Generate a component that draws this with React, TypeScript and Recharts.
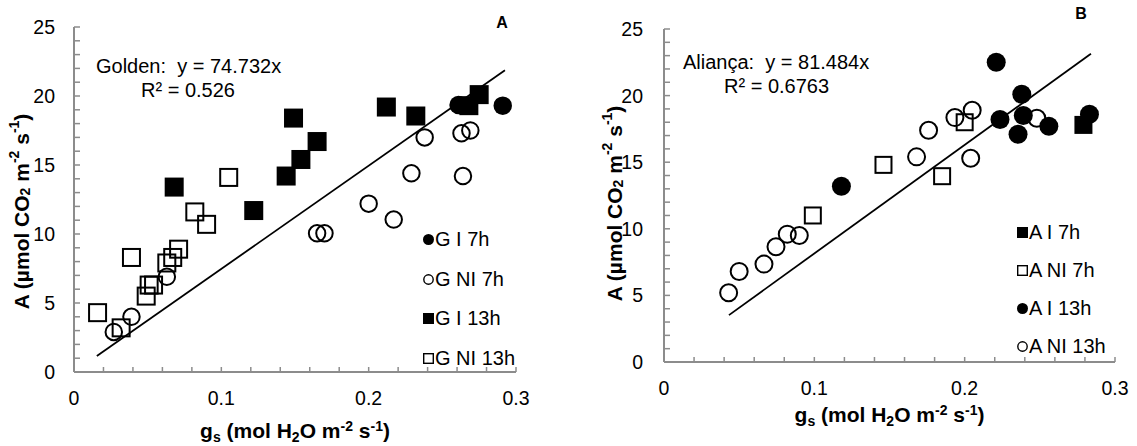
import React from 'react';
import { Label, Legend, ReferenceLine, Scatter, ScatterChart, XAxis, YAxis } from 'recharts';

type Pt = { gs: number; a: number };
type Series = { name: string; data: Pt[]; shape: 'circle' | 'square'; filled: boolean };

// axis ticks
const X_TICKS = [0, 0.02, 0.04, 0.06, 0.08, 0.1, 0.12, 0.14, 0.16, 0.18, 0.2, 0.22, 0.24, 0.26, 0.28, 0.3];
const X_LABELS = [0, 0.1, 0.2, 0.3];
const Y_TICKS = [0, 1, 2, 3, 4, 5, 6, 7, 8, 9, 10, 11, 12, 13, 14, 15, 16, 17, 18, 19, 20, 21, 22, 23, 24, 25];
const Y_LABELS = [0, 5, 10, 15, 20, 25];

// Golden (panel A)
const G_I_7H: Pt[] = [
  { gs: 0.261, a: 19.35 },
  { gs: 0.291, a: 19.3 },
];
const G_NI_7H: Pt[] = [
  { gs: 0.027, a: 2.9 },
  { gs: 0.039, a: 4.0 },
  { gs: 0.063, a: 6.9 },
  { gs: 0.165, a: 10.05 },
  { gs: 0.17, a: 10.05 },
  { gs: 0.2, a: 12.2 },
  { gs: 0.217, a: 11.05 },
  { gs: 0.229, a: 14.4 },
  { gs: 0.238, a: 17.0 },
  { gs: 0.263, a: 17.3 },
  { gs: 0.264, a: 14.2 },
  { gs: 0.269, a: 17.5 },
];
const G_I_13H: Pt[] = [
  { gs: 0.068, a: 13.4 },
  { gs: 0.122, a: 11.7 },
  { gs: 0.144, a: 14.2 },
  { gs: 0.149, a: 18.4 },
  { gs: 0.154, a: 15.4 },
  { gs: 0.165, a: 16.7 },
  { gs: 0.212, a: 19.2 },
  { gs: 0.232, a: 18.55 },
  { gs: 0.268, a: 19.3 },
  { gs: 0.275, a: 20.1 },
];
const G_NI_13H: Pt[] = [
  { gs: 0.016, a: 4.3 },
  { gs: 0.032, a: 3.2 },
  { gs: 0.039, a: 8.3 },
  { gs: 0.049, a: 5.5 },
  { gs: 0.051, a: 6.3 },
  { gs: 0.054, a: 6.3 },
  { gs: 0.063, a: 7.9 },
  { gs: 0.067, a: 8.3 },
  { gs: 0.071, a: 8.9 },
  { gs: 0.082, a: 11.6 },
  { gs: 0.09, a: 10.7 },
  { gs: 0.105, a: 14.1 },
];
const GOLDEN_SLOPE = 74.732;
const GOLDEN_FIT_RANGE = [0.0155, 0.2925];

// Aliança (panel B)
const A_I_7H: Pt[] = [{ gs: 0.279, a: 17.8 }];
const A_NI_7H: Pt[] = [
  { gs: 0.099, a: 11.0 },
  { gs: 0.146, a: 14.8 },
  { gs: 0.185, a: 13.95 },
  { gs: 0.2, a: 18.0 },
];
const A_I_13H: Pt[] = [
  { gs: 0.118, a: 13.2 },
  { gs: 0.221, a: 22.5 },
  { gs: 0.2235, a: 18.2 },
  { gs: 0.2355, a: 17.1 },
  { gs: 0.238, a: 20.1 },
  { gs: 0.239, a: 18.5 },
  { gs: 0.256, a: 17.7 },
  { gs: 0.283, a: 18.6 },
];
const A_NI_13H: Pt[] = [
  { gs: 0.043, a: 5.2 },
  { gs: 0.05, a: 6.8 },
  { gs: 0.0665, a: 7.35 },
  { gs: 0.0745, a: 8.65 },
  { gs: 0.082, a: 9.6 },
  { gs: 0.09, a: 9.5 },
  { gs: 0.168, a: 15.4 },
  { gs: 0.176, a: 17.4 },
  { gs: 0.1935, a: 18.35 },
  { gs: 0.204, a: 15.3 },
  { gs: 0.205, a: 18.9 },
  { gs: 0.248, a: 18.3 },
];
const ALIANCA_SLOPE = 81.484;
const ALIANCA_FIT_RANGE = [0.0432, 0.284];

const GOLDEN_SERIES: Series[] = [
  { name: 'G I 7h', data: G_I_7H, shape: 'circle', filled: true },
  { name: 'G NI 7h', data: G_NI_7H, shape: 'circle', filled: false },
  { name: 'G I 13h', data: G_I_13H, shape: 'square', filled: true },
  { name: 'G NI 13h', data: G_NI_13H, shape: 'square', filled: false },
];
const ALIANCA_SERIES: Series[] = [
  { name: 'A I 7h', data: A_I_7H, shape: 'square', filled: true },
  { name: 'A NI 7h', data: A_NI_7H, shape: 'square', filled: false },
  { name: 'A I 13h', data: A_I_13H, shape: 'circle', filled: true },
  { name: 'A NI 13h', data: A_NI_13H, shape: 'circle', filled: false },
];

const FONT = '"Liberation Sans", Arial, sans-serif';
const AXIS = '#8c8c8c';
const NB = '\u00A0';

const near = (list: number[], v: number) => list.some((l) => Math.abs(l - v) < 1e-9);

function makeMarker(shape: 'circle' | 'square', filled: boolean, size: number) {
  return (p: any) => {
    const { cx, cy } = p;
    const fill = filled ? '#000' : 'none';
    const sw = filled ? 0 : 2;
    if (shape === 'circle') {
      const r = size / 2 - (filled ? 0 : 1);
      return <circle cx={cx} cy={cy} r={r} fill={fill} stroke="#000" strokeWidth={sw} />;
    }
    const s = size - (filled ? 0 : 2);
    return <rect x={cx - s / 2} y={cy - s / 2} width={s} height={s} fill={fill} stroke="#000" strokeWidth={sw} />;
  };
}

function LegendIcon({ shape, filled }: { shape: 'circle' | 'square'; filled: boolean }) {
  return (
    <svg width={11} height={11} style={{ display: 'block' }}>
      {shape === 'circle' ? (
        <circle cx={5.5} cy={5.5} r={filled ? 5.5 : 4.7} fill={filled ? '#000' : 'none'} stroke="#000" strokeWidth={filled ? 0 : 1.4} />
      ) : (
        <rect x={filled ? 0 : 0.7} y={filled ? 0 : 0.7} width={filled ? 11 : 9.6} height={filled ? 11 : 9.6} fill={filled ? '#000' : 'none'} stroke="#000" strokeWidth={filled ? 0 : 1.4} />
      )}
    </svg>
  );
}

type PanelProps = {
  width: number;
  height: number;
  top: number;
  right: number;
  yAxisWidth: number;
  xAxisHeight: number;
  series: Series[];
  slope: number;
  fitRange: number[];
  circleSize: number;
  squareSize: number;
  yLabelGap: number;
  xLabelGap: number;
  xTitleDy: number;
  yTitleX: number;
  yTitleDy: number;
  legendLeft: number;
  legendTop: number;
  legendRow: number;
};

const TITLE_SIZE = 21;
const SUB_SIZE = 14;

function Panel(p: PanelProps) {
  const xTick = (props: any) => {
    const { x, y, payload } = props;
    const v = payload.value;
    return (
      <g>
        {v > 0 && <line x1={x} x2={x} y1={y} y2={y - 5} stroke={AXIS} strokeWidth={1.5} />}
        {near(X_LABELS, v) && (
          <text x={x} y={y + p.xLabelGap} textAnchor="middle" dominantBaseline="central" fontSize={19.5} fill="#000" fontFamily={FONT}>
            {String(v)}
          </text>
        )}
      </g>
    );
  };
  const yTick = (props: any) => {
    const { x, y, payload } = props;
    const v = payload.value;
    return (
      <g>
        {v > 0 && <line x1={x} x2={x + 6} y1={y} y2={y} stroke={AXIS} strokeWidth={1.5} />}
        {near(Y_LABELS, v) && (
          <text x={x - p.yLabelGap} y={y} textAnchor="end" dominantBaseline="central" fontSize={19.5} fill="#000" fontFamily={FONT}>
            {String(v)}
          </text>
        )}
      </g>
    );
  };

  const xTitle = (props: any) => {
    const vb = props.viewBox;
    const cx = vb.x + vb.width / 2;
    const cy = vb.y + p.xTitleDy;
    return (
      <text x={cx} y={cy} textAnchor="middle" fontSize={TITLE_SIZE} fontWeight="bold" fill="#000" fontFamily={FONT}>
        <tspan>g</tspan>
        <tspan fontSize={SUB_SIZE} dy={4}>s</tspan>
        <tspan dy={-4}> (mol H</tspan>
        <tspan fontSize={SUB_SIZE} dy={4}>2</tspan>
        <tspan dy={-4}>O m</tspan>
        <tspan fontSize={SUB_SIZE} dy={-7}>-2</tspan>
        <tspan dy={7}> s</tspan>
        <tspan fontSize={SUB_SIZE} dy={-7}>-1</tspan>
        <tspan dy={7}>)</tspan>
      </text>
    );
  };
  const yTitle = (props: any) => {
    const vb = props.viewBox;
    const cx = p.yTitleX;
    const cy = vb.y + vb.height / 2 + p.yTitleDy;
    return (
      <text
        x={cx}
        y={cy}
        transform={`rotate(-90 ${cx} ${cy})`}
        textAnchor="middle"
        dominantBaseline="central"
        fontSize={TITLE_SIZE}
        fontWeight="bold"
        fill="#000"
        fontFamily={FONT}
      >
        <tspan>A (µmol CO</tspan>
        <tspan fontSize={SUB_SIZE} dy={4}>2</tspan>
        <tspan dy={-4}> m</tspan>
        <tspan fontSize={SUB_SIZE} dy={-7}>-2</tspan>
        <tspan dy={7}> s</tspan>
        <tspan fontSize={SUB_SIZE} dy={-7}>-1</tspan>
        <tspan dy={7}>)</tspan>
      </text>
    );
  };

  const legendContent = () => (
    <div style={{ fontFamily: FONT, fontSize: 20, color: '#000' }}>
      {p.series.map((s) => (
        <div key={s.name} style={{ display: 'flex', alignItems: 'center', height: p.legendRow }}>
          <LegendIcon shape={s.shape} filled={s.filled} />
          <span style={{ marginLeft: 1, whiteSpace: 'pre' }}>{s.name}</span>
        </div>
      ))}
    </div>
  );

  return (
    <ScatterChart
      width={p.width}
      height={p.height}
      margin={{ top: p.top, right: p.right, bottom: 0, left: 0 }}
      style={{ fontFamily: FONT }}
    >
      <XAxis
        type="number"
        dataKey="gs"
        domain={[0, 0.3]}
        ticks={X_TICKS}
        interval={0}
        height={p.xAxisHeight}
        tickSize={0}
        tickMargin={0}
        tickLine={false}
        tick={xTick}
        axisLine={{ stroke: AXIS, strokeWidth: 2 }}
        allowDataOverflow
      >
        <Label content={xTitle} />
      </XAxis>
      <YAxis
        type="number"
        dataKey="a"
        domain={[0, 25]}
        ticks={Y_TICKS}
        interval={0}
        width={p.yAxisWidth}
        tickSize={0}
        tickMargin={0}
        tickLine={false}
        tick={yTick}
        axisLine={{ stroke: AXIS, strokeWidth: 2 }}
        allowDataOverflow
      >
        <Label content={yTitle} />
      </YAxis>
      <ReferenceLine
        segment={[
          { x: p.fitRange[0], y: p.fitRange[0] * p.slope },
          { x: p.fitRange[1], y: p.fitRange[1] * p.slope },
        ]}
        stroke="#000"
        strokeWidth={1.8}
        ifOverflow="visible"
      />
      {p.series.map((s) => (
        <Scatter
          key={s.name}
          name={s.name}
          data={s.data}
          isAnimationActive={false}
          shape={makeMarker(s.shape, s.filled, s.shape === 'circle' ? p.circleSize : p.squareSize)}
        />
      ))}
      <Legend
        layout="vertical"
        align="center"
        verticalAlign="middle"
        content={legendContent}
        wrapperStyle={{ left: p.legendLeft, top: p.legendTop, width: 'auto' }}
      />
    </ScatterChart>
  );
}

export default function App() {
  return (
    <div style={{ position: 'absolute', left: 0, top: 0, width: 1137, height: 446, background: '#fff', fontFamily: FONT }}>
      <div style={{ position: 'absolute', left: 0, top: 0 }}>
        <Panel
          width={570}
          height={446}
          top={27}
          right={54}
          yAxisWidth={74}
          xAxisHeight={74}
          series={GOLDEN_SERIES}
          slope={GOLDEN_SLOPE}
          fitRange={GOLDEN_FIT_RANGE}
          circleSize={18.5}
          squareSize={19}
          yLabelGap={19}
          xLabelGap={26}
          xTitleDy={66}
          yTitleX={21}
          yTitleDy={12}
          legendLeft={423}
          legendTop={220}
          legendRow={39.5}
        />
      </div>
      <div style={{ position: 'absolute', left: 570, top: 0 }}>
        <Panel
          width={567}
          height={446}
          top={29}
          right={22}
          yAxisWidth={94}
          xAxisHeight={84}
          series={ALIANCA_SERIES}
          slope={ALIANCA_SLOPE}
          fitRange={ALIANCA_FIT_RANGE}
          circleSize={19}
          squareSize={18}
          yLabelGap={21}
          xLabelGap={26}
          xTitleDy={60}
          yTitleX={44}
          yTitleDy={8}
          legendLeft={447}
          legendTop={213}
          legendRow={38}
        />
      </div>
      <svg width={1137} height={446} style={{ position: 'absolute', left: 0, top: 0, pointerEvents: 'none' }}>
        <g fontFamily={FONT} fontSize={20} fill="#000">
          <text x={96} y={73}>{`Golden:${NB}${NB}y = 74.732x`}</text>
          <text x={141} y={97}>{'R² = 0.526'}</text>
          <text x={683} y={69}>{`Aliança:${NB}${NB}y = 81.484x`}</text>
          <text x={724} y={93}>{'R² = 0.6763'}</text>
        </g>
        <g fontFamily={FONT} fontSize={16} fontWeight="bold" fill="#000" textAnchor="middle">
          <text x={502} y={28}>A</text>
          <text x={1081} y={19}>B</text>
        </g>
      </svg>
    </div>
  );
}
